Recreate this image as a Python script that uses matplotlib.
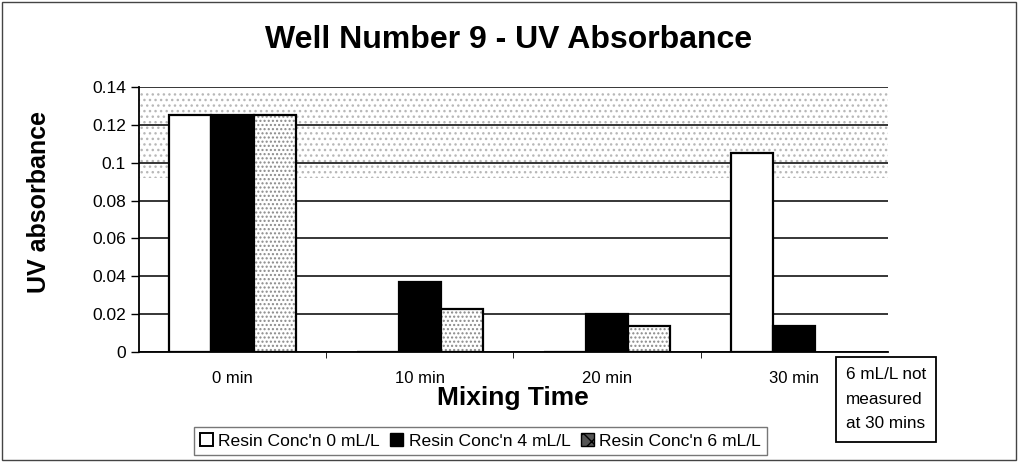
import numpy as np
from matplotlib import pyplot as plt
from matplotlib.patches import Rectangle

plt.rcParams['font.family'] = ['Liberation Sans', 'DejaVu Sans']

# datos
tiempos = ['0 min', '10 min', '20 min', '30 min']
resina_0 = [0.125, 0.0, 0.0, 0.105]
resina_4 = [0.125, 0.037, 0.020, 0.014]
resina_6 = [0.125, 0.023, 0.014, np.nan]
etiquetas = ["Resin Conc'n 0 mL/L", "Resin Conc'n 4 mL/L", "Resin Conc'n 6 mL/L"]
yticks = [0, 0.02, 0.04, 0.06, 0.08, 0.1, 0.12, 0.14]

fig = plt.figure(figsize=(10.18, 4.62), dpi=100)
ax = fig.add_axes([0.1365, 0.238, 0.7355, 0.5737])

x = np.arange(len(tiempos))
w = 0.225

ax.set_ylim(0, 0.14)
ax.set_xlim(-0.5, len(tiempos) - 0.5)
ax.set_yticks(yticks)
ax.set_yticklabels([f'{v:g}' for v in yticks], fontsize=12.5)
ax.yaxis.grid(True, color='black', linewidth=1.1)
ax.set_axisbelow(True)

# banda punteada del escaneo
ax.axhspan(0.092, 0.137, facecolor='none', edgecolor='#b8b8b8', hatch='...', linewidth=0, zorder=0.5)

ax.bar(x - w, resina_0, w, color='white', edgecolor='black', linewidth=1.6, zorder=2)
ax.bar(x, resina_4, w, color='black', edgecolor='black', linewidth=1.6, zorder=2)
ax.bar(x + w, resina_6, w, color='white', edgecolor='#8a8a8a', hatch='....', linewidth=0, zorder=2)
ax.bar(x + w, resina_6, w, fill=False, edgecolor='black', linewidth=1.6, zorder=3)

ax.set_xticks(x)
ax.set_xticklabels(tiempos, fontsize=12)
ax.tick_params(axis='x', length=0, pad=14)
ax.tick_params(axis='y', length=6, width=1)
ax.set_xticks(np.arange(0.5, len(tiempos) - 0.5), minor=True)
ax.tick_params(axis='x', which='minor', length=4, direction='out')

for s in ['top', 'right']:
    ax.spines[s].set_visible(False)
ax.spines['left'].set_linewidth(1.3)
ax.spines['bottom'].set_linewidth(1.3)

ax.set_ylabel('UV absorbance', fontsize=18, fontweight='bold')
ax.yaxis.set_label_coords(-0.118, 0.566)
ax.set_xlabel('Mixing Time', fontsize=19, fontweight='bold', labelpad=0)
fig.text(0.5, 0.913, 'Well Number 9 - UV Absorbance', fontsize=23, fontweight='bold',
         ha='center', va='center')

h_leg = [Rectangle((0, 0), 1, 1, facecolor='white', edgecolor='black', linewidth=1.4),
         Rectangle((0, 0), 1, 1, facecolor='black', edgecolor='black'),
         Rectangle((0, 0), 1, 1, facecolor='#555555', edgecolor='black', hatch='xx')]
fig.legend(h_leg, etiquetas, loc='center', bbox_to_anchor=(0.472, 0.045), ncol=3,
           fontsize=12.6, frameon=True, fancybox=False, edgecolor='#555555',
           handlelength=0.75, handleheight=0.75, handletextpad=0.3, columnspacing=0.6,
           borderpad=0.35)

fig.text(0.831, 0.205, '6 mL/L not\nmeasured\nat 30 mins', fontsize=12.3, linespacing=1.8,
         va='top', ha='left',
         bbox=dict(boxstyle='square,pad=0.6', facecolor='white', edgecolor='black', linewidth=1.3))

fig.patches.append(Rectangle((0.002, 0.004), 0.996, 0.992, transform=fig.transFigure,
                             fill=False, edgecolor='#444444', linewidth=1))

fig.savefig('out.png', dpi=100)
